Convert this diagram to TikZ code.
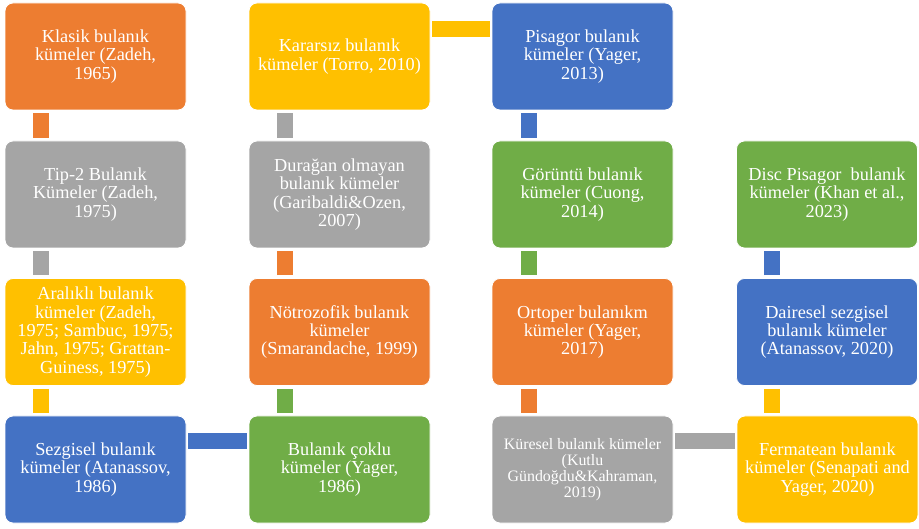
\documentclass[tikz,border=0pt]{standalone}
\usepackage{fontspec}
\setmainfont{Liberation Serif}
\definecolor{cOrange}{HTML}{ED7D31}
\definecolor{cGray}{HTML}{A5A5A5}
\definecolor{cYellow}{HTML}{FFC000}
\definecolor{cBlue}{HTML}{4472C4}
\definecolor{cGreen}{HTML}{70AD47}
\begin{document}
\begin{tikzpicture}[x=1pt,y=1pt,
  box/.style={rectangle, rounded corners=8pt, draw=white, line width=0.8pt,
    minimum width=181pt, minimum height=107pt, inner sep=0pt, align=center,
    text=white, font=\fontsize{18.3pt}{18.3pt}\selectfont},
  smalltxt/.style={font=\fontsize{15.9pt}{16pt}\selectfont},
  vconn/.style={line width=16pt, shorten <=3pt, shorten >=3pt},
  hconn/.style={line width=16pt, shorten <=2pt, shorten >=2pt}]
\useasboundingbox[fill=white] (0,0) rectangle (919,-529);
% column 1
\node[box, fill=cOrange] (klasik) at (95.5,-56.5) {Klasik bulanık\\kümeler (Zadeh,\\1965)};
\node[box, fill=cGray] (tip) at (95.5,-194.5) {Tip-2 Bulanık\\Kümeler (Zadeh,\\1975)};
\node[box, fill=cYellow] (aralikli) at (95.5,-332) {Aralıklı bulanık\\kümeler (Zadeh,\\1975; Sambuc, 1975;\\Jahn, 1975; Grattan-\\Guiness, 1975)};
\node[box, fill=cBlue] (sezgisel) at (95.5,-469.5) {Sezgisel bulanık\\kümeler (Atanassov,\\1986)};
% column 2
\node[box, fill=cYellow] (kararsiz) at (339.5,-56.5) {Kararsız bulanık\\kümeler (Torro, 2010)};
\node[box, fill=cGray] (duragan) at (339.5,-194.5) {Durağan olmayan\\bulanık kümeler\\(Garibaldi\&Ozen,\\2007)};
\node[box, fill=cOrange] (notro) at (339.5,-332) {Nötrozofik bulanık\\kümeler\\(Smarandache, 1999)};
\node[box, fill=cGreen] (coklu) at (339.5,-469.5) {Bulanık çoklu\\kümeler (Yager,\\1986)};
% column 3
\node[box, fill=cBlue] (pisagor) at (582.5,-56.5) {Pisagor bulanık\\kümeler (Yager,\\2013)};
\node[box, fill=cGreen] (goruntu) at (582.5,-194.5) {Görüntü bulanık\\kümeler (Cuong,\\2014)};
\node[box, fill=cOrange] (ortoper) at (582.5,-332) {Ortoper bulanıkm\\kümeler (Yager,\\2017)};
\node[box, smalltxt, fill=cGray] (kuresel) at (582.5,-469.5) {Küresel bulanık kümeler\\(Kutlu\\Gündoğdu\&Kahraman,\\2019)};
% column 4
\node[box, fill=cGreen] (disc) at (827,-194.5) {Disc Pisagor\ \ bulanık\\kümeler (Khan et al.,\\2023)};
\node[box, fill=cBlue] (dairesel) at (827,-332) {Dairesel sezgisel\\bulanık kümeler\\(Atanassov, 2020)};
\node[box, fill=cYellow] (fermat) at (827.5,-469.5) {Fermatean bulanık\\kümeler (Senapati and\\Yager, 2020)};
% connectors
\draw[vconn, cOrange] ([xshift=36pt]klasik.south west) -- ([xshift=36pt]tip.north west);
\draw[vconn, cGray] ([xshift=36pt]tip.south west) -- ([xshift=36pt]aralikli.north west);
\draw[vconn, cYellow] ([xshift=36pt]aralikli.south west) -- ([xshift=36pt]sezgisel.north west);
\draw[hconn, cBlue] ([yshift=-25.5pt]sezgisel.north east) -- ([yshift=-25.5pt]coklu.north west);
\draw[vconn, cGreen] ([xshift=36pt]coklu.north west) -- ([xshift=36pt]notro.south west);
\draw[vconn, cOrange] ([xshift=36pt]notro.north west) -- ([xshift=36pt]duragan.south west);
\draw[vconn, cGray] ([xshift=36pt]duragan.north west) -- ([xshift=36pt]kararsiz.south west);
\draw[hconn, cYellow] ([yshift=-26pt]kararsiz.north east) -- ([yshift=-26pt]pisagor.north west);
\draw[vconn, cBlue] ([xshift=37pt]pisagor.south west) -- ([xshift=37pt]goruntu.north west);
\draw[vconn, cGreen] ([xshift=37pt]goruntu.south west) -- ([xshift=37pt]ortoper.north west);
\draw[vconn, cOrange] ([xshift=37pt]ortoper.south west) -- ([xshift=37pt]kuresel.north west);
\draw[hconn, cGray] ([yshift=-25.5pt]kuresel.north east) -- ([yshift=-25.5pt]fermat.north west);
\draw[vconn, cYellow] ([xshift=36pt]dairesel.south west) -- ([xshift=36pt]dairesel.south west |- fermat.north);
\draw[vconn, cBlue] ([xshift=36pt]dairesel.north west) -- ([xshift=36pt]disc.south west);
\end{tikzpicture}
\end{document}
